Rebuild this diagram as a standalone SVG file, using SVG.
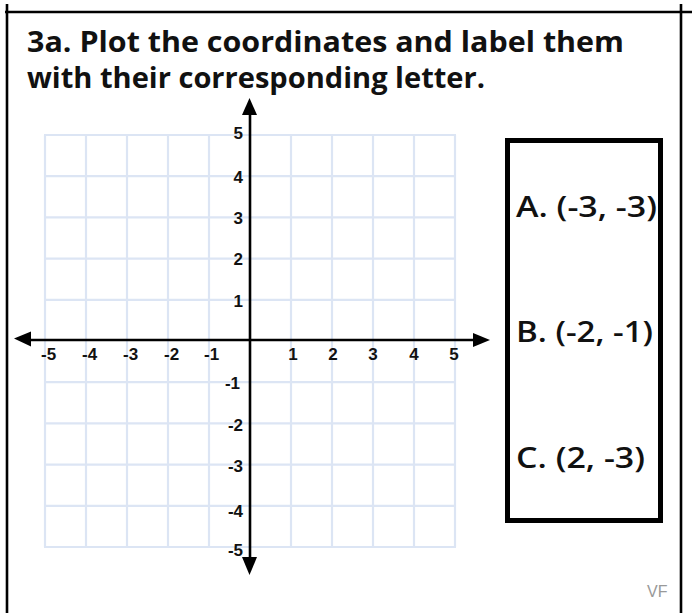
<svg xmlns="http://www.w3.org/2000/svg" width="692" height="613" viewBox="0 0 692 613">
<style>
.frame{stroke:#000;stroke-width:2.6;fill:none}
.grid line{stroke:#dce5f4;stroke-width:2.2}
.axis{stroke:#000;stroke-width:2.6}
.arr{fill:#000}
.title{font-family:"Open Sans","Liberation Sans",Arial,sans-serif;font-weight:700;font-size:29px;fill:#111}
.num{font-family:"Liberation Sans",Arial,sans-serif;font-weight:700;font-size:17px;fill:#111}
.lbl{font-family:"Open Sans","Liberation Sans",Arial,sans-serif;font-weight:600;font-size:28px;fill:#111}
.vf{font-family:"Liberation Sans",Arial,sans-serif;font-size:16px;fill:#999}
</style>
<rect width="692" height="613" fill="#fff"/>
<g id="frame">
<line class="frame" x1="5" y1="12" x2="692" y2="12" stroke-width="3"/>
<line class="frame" x1="7" y1="4" x2="7" y2="613"/>
<line class="frame" x1="681" y1="4" x2="681" y2="613"/>
</g>
<g id="title">
<text class="title" x="27" y="52" textLength="597" lengthAdjust="spacingAndGlyphs">3a. Plot the coordinates and label them</text>
<text class="title" x="27" y="88" textLength="458" lengthAdjust="spacingAndGlyphs">with their corresponding letter.</text>
</g>
<g id="grid" class="grid">
<line x1="45" y1="135" x2="45" y2="547"/>
<line x1="86" y1="135" x2="86" y2="547"/>
<line x1="127" y1="135" x2="127" y2="547"/>
<line x1="168" y1="135" x2="168" y2="547"/>
<line x1="209" y1="135" x2="209" y2="547"/>
<line x1="291" y1="135" x2="291" y2="547"/>
<line x1="332" y1="135" x2="332" y2="547"/>
<line x1="373" y1="135" x2="373" y2="547"/>
<line x1="414" y1="135" x2="414" y2="547"/>
<line x1="455" y1="135" x2="455" y2="547"/>
<line x1="44" y1="135" x2="456" y2="135"/>
<line x1="44" y1="176.2" x2="456" y2="176.2"/>
<line x1="44" y1="217.4" x2="456" y2="217.4"/>
<line x1="44" y1="258.6" x2="456" y2="258.6"/>
<line x1="44" y1="299.8" x2="456" y2="299.8"/>
<line x1="44" y1="382.2" x2="456" y2="382.2"/>
<line x1="44" y1="423.4" x2="456" y2="423.4"/>
<line x1="44" y1="464.6" x2="456" y2="464.6"/>
<line x1="44" y1="505.8" x2="456" y2="505.8"/>
<line x1="44" y1="547" x2="456" y2="547"/>
</g>
<g id="axes">
<line class="axis" x1="28" y1="340" x2="476" y2="340"/>
<polygon class="arr" points="14,338.5 31,331.5 31,346.5"/>
<polygon class="arr" points="490,340 473,333 473,347"/>
<line class="axis" x1="250" y1="112" x2="250" y2="560"/>
<polygon class="arr" points="249.5,98 242,115 257,115"/>
<polygon class="arr" points="249.5,575 242,557 257,557"/>
</g>
<g id="x-labels" class="num">
<text x="41" y="360">-5</text>
<text x="82" y="360">-4</text>
<text x="123" y="360">-3</text>
<text x="164" y="360">-2</text>
<text x="204" y="360">-1</text>
<text x="293" y="360" text-anchor="middle">1</text>
<text x="333" y="360" text-anchor="middle">2</text>
<text x="373" y="360" text-anchor="middle">3</text>
<text x="414" y="360" text-anchor="middle">4</text>
<text x="454" y="360" text-anchor="middle">5</text>
</g>
<g id="y-labels" class="num" text-anchor="end">
<text x="243" y="139">5</text>
<text x="243" y="183">4</text>
<text x="243" y="223.5">3</text>
<text x="243" y="265">2</text>
<text x="243" y="307">1</text>
<text x="240" y="389">-1</text>
<text x="243" y="431">-2</text>
<text x="243" y="472">-3</text>
<text x="243" y="517">-4</text>
<text x="243" y="556">-5</text>
</g>
<g id="points-box">
<rect x="507.5" y="140.5" width="153" height="380" fill="none" stroke="#000" stroke-width="5"/>
<text class="lbl" x="516" y="217" textLength="141" lengthAdjust="spacingAndGlyphs">A. (-3, -3)</text>
<text class="lbl" x="516" y="342" textLength="137" lengthAdjust="spacingAndGlyphs">B. (-2, -1)</text>
<text class="lbl" x="516" y="468" textLength="129" lengthAdjust="spacingAndGlyphs">C. (2, -3)</text>
</g>
<g id="credit">
<text class="vf" x="647" y="597">VF</text>
</g>
</svg>
